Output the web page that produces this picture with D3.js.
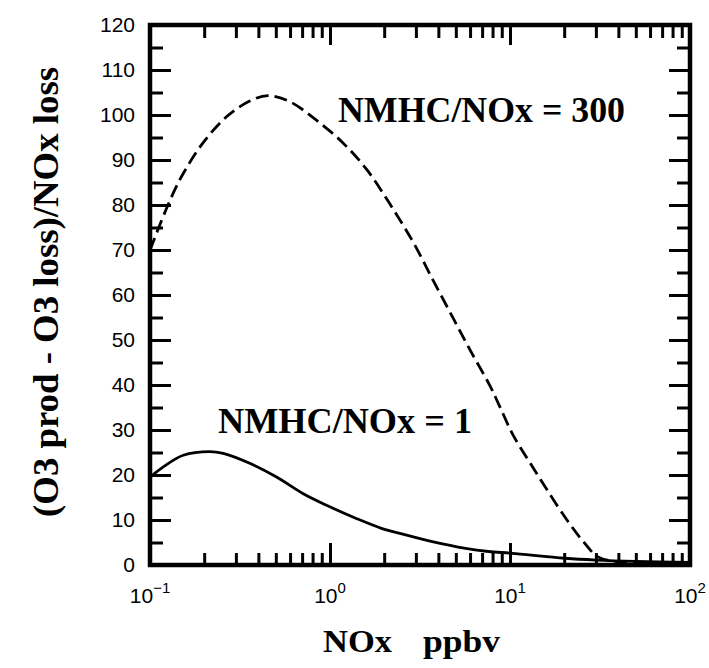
<!DOCTYPE html>
<html>
<head>
<meta charset="utf-8">
<script src="https://cdn.jsdelivr.net/npm/d3@7"></script>
<style>
  body { margin: 0; background: #fff; }
  svg { display: block; }
</style>
</head>
<body>
<div id="chart"></div>
<script>
// NMHC/NOx = 300 (dashed)
const noxHigh   = [0.1, 0.129, 0.153, 0.197, 0.266, 0.358, 0.452, 0.596, 0.837, 1.181, 1.606, 2.154, 2.892, 3.735, 4.825, 5.995, 7.743, 8.799, 10.39, 12.92, 16.06, 20.73, 25.44, 30.83, 40, 60, 100];
const ratioHigh = [70, 81, 87, 93.8, 99.6, 103.1, 104.3, 103, 98.9, 93.8, 87.8, 80.2, 71.8, 63.3, 54.9, 47.8, 39.8, 35.1, 28.9, 22.7, 16.7, 10.0, 5.3, 1.8, 0.7, 0.5, 0.4];

// NMHC/NOx = 1 (solid)
const noxLow   = [0.1, 0.1185, 0.153, 0.215, 0.255, 0.358, 0.502, 0.706, 0.99, 1.39, 1.95, 2.63, 3.7, 5.66, 7.6, 10.25, 20.2, 30, 50, 100];
const ratioLow = [19.5, 21.8, 24.4, 25.2, 24.8, 22.6, 19.6, 15.9, 13.0, 10.4, 8.1, 6.7, 5.2, 3.7, 3.0, 2.6, 1.5, 1.1, 0.8, 0.6];

const yMajor = [0, 10, 20, 30, 40, 50, 60, 70, 80, 90, 100, 110, 120];
const yMinor = [5, 15, 25, 35, 45, 55, 65, 75, 85, 95, 105, 115];
const xDecades = [0.1, 1, 10, 100];
const xExponents = ['\u22121', '0', '1', '2'];

const W = 709, H = 668;
const margin = { top: 25, right: 19, bottom: 103, left: 150 };
const w = W - margin.left - margin.right;
const h = H - margin.top - margin.bottom;

const svg = d3.select('#chart').append('svg').attr('width', W).attr('height', H);
svg.append('rect').attr('width', W).attr('height', H).attr('fill', '#fff');
const g = svg.append('g').attr('transform', `translate(${margin.left},${margin.top})`);

const x = d3.scaleLog().domain([0.1, 100]).range([0, w]);
const y = d3.scaleLinear().domain([0, 120]).range([h, 0]);

const xMinor = x.ticks().filter(v => !xDecades.some(d => Math.abs(d - v) < 1e-9));

const sans = '"Liberation Sans", Arial, sans-serif';
const serif = '"Liberation Serif", "Times New Roman", serif';

function styleAxis(sel) {
  sel.select('.domain').remove();
  sel.selectAll('.tick line').attr('stroke', '#000').attr('stroke-width', 3);
  sel.selectAll('.tick text').attr('fill', '#000')
    .style('font-family', sans).style('font-size', '21px');
}

// left
g.append('g').call(d3.axisLeft(y).tickValues(yMajor).tickSize(-21).tickPadding(15)).call(styleAxis);
g.append('g').call(d3.axisLeft(y).tickValues(yMinor).tickSize(-13).tickFormat('')).call(styleAxis);
// right
g.append('g').attr('transform', `translate(${w},0)`)
  .call(d3.axisRight(y).tickValues(yMajor).tickSize(-21).tickFormat('')).call(styleAxis);
g.append('g').attr('transform', `translate(${w},0)`)
  .call(d3.axisRight(y).tickValues(yMinor).tickSize(-13).tickFormat('')).call(styleAxis);
// bottom
g.append('g').attr('transform', `translate(0,${h})`)
  .call(d3.axisBottom(x).tickValues(xDecades).tickSize(-22).tickFormat('')).call(styleAxis);
g.append('g').attr('transform', `translate(0,${h})`)
  .call(d3.axisBottom(x).tickValues(xMinor).tickSize(-12).tickFormat('')).call(styleAxis);
// top
g.append('g').call(d3.axisTop(x).tickValues(xDecades).tickSize(-20).tickFormat('')).call(styleAxis);
g.append('g').call(d3.axisTop(x).tickValues(xMinor).tickSize(-13).tickFormat('')).call(styleAxis);

// x tick labels 10^n
const xl = g.append('g').selectAll('text').data(xDecades).enter().append('text')
  .attr('x', d => x(d)).attr('y', h + 38)
  .attr('text-anchor', 'middle')
  .style('font-family', sans).style('font-size', '21px');
xl.append('tspan').text('10');
xl.append('tspan').attr('dy', -10).style('font-size', '15px').text((d, i) => xExponents[i]);

// frame
g.append('rect').attr('width', w).attr('height', h)
  .attr('fill', 'none').attr('stroke', '#000').attr('stroke-width', 4.5);

// curves
const line = d3.line().x(d => x(d[0])).y(d => y(d[1])).curve(d3.curveCatmullRom.alpha(0.5));
g.append('path').datum(d3.zip(noxHigh, ratioHigh)).attr('d', line)
  .attr('fill', 'none').attr('stroke', '#000').attr('stroke-width', 2.8)
  .attr('stroke-dasharray', '13,6');
g.append('path').datum(d3.zip(noxLow, ratioLow)).attr('d', line)
  .attr('fill', 'none').attr('stroke', '#000').attr('stroke-width', 2.8);

// annotations
function label(txt, xPos, yPos, len, size) {
  return svg.append('text').attr('x', xPos).attr('y', yPos)
    .attr('textLength', len).attr('lengthAdjust', 'spacingAndGlyphs')
    .style('font-family', serif).style('font-weight', 'bold').style('font-size', size + 'px')
    .text(txt);
}
label('NMHC/NOx = 300', 338, 122, 287, 35);
label('NMHC/NOx = 1', 218, 433, 254, 35);

// axis titles
label('NOx', 323, 652, 69, 32);
label('ppbv', 423, 652, 77, 32);
svg.append('text').attr('transform', 'translate(58,292) rotate(-90)')
  .attr('text-anchor', 'middle').attr('textLength', 450).attr('lengthAdjust', 'spacingAndGlyphs')
  .style('font-family', serif).style('font-weight', 'bold').style('font-size', '36px')
  .text('(O3 prod - O3 loss)/NOx loss');
</script>
</body>
</html>
